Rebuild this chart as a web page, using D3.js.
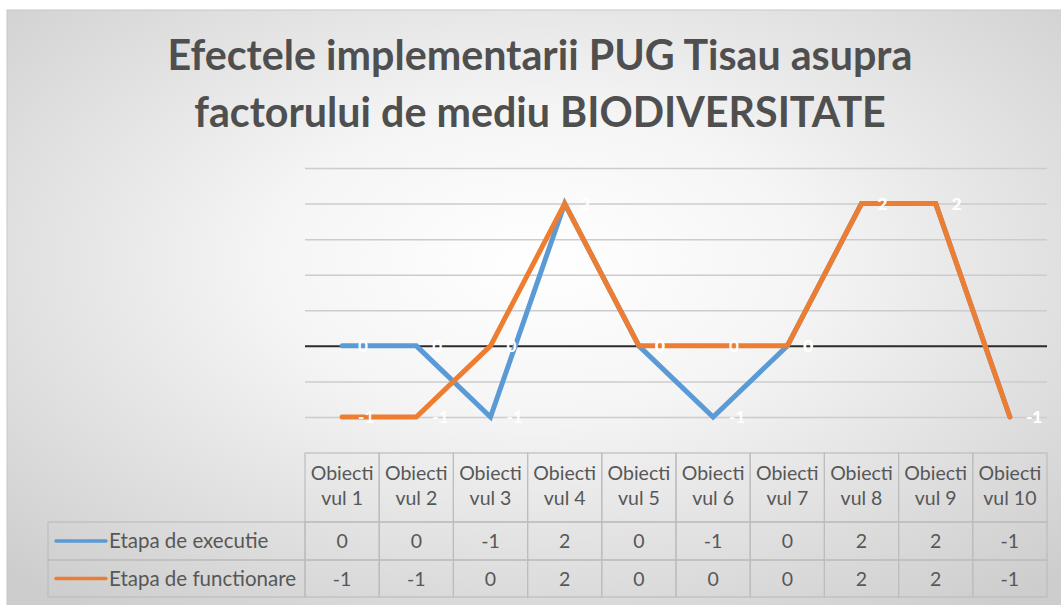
<!DOCTYPE html>
<html>
<head>
<meta charset="utf-8">
<script src="https://cdn.jsdelivr.net/npm/d3@7"></script>
<style>
  html, body { margin: 0; padding: 0; background: #ffffff; }
  svg { display: block; }
</style>
</head>
<body>
<svg id="chart" width="1061" height="605"></svg>
<script>
// ---- data ----
const titleLines = ["Efectele implementarii PUG Tisau asupra", "factorului de mediu BIODIVERSITATE"];
const categories = ["Obiectivul 1","Obiectivul 2","Obiectivul 3","Obiectivul 4","Obiectivul 5",
                    "Obiectivul 6","Obiectivul 7","Obiectivul 8","Obiectivul 9","Obiectivul 10"];
const headerLine1 = ["Obiecti","Obiecti","Obiecti","Obiecti","Obiecti","Obiecti","Obiecti","Obiecti","Obiecti","Obiecti"];
const headerLine2 = ["vul 1","vul 2","vul 3","vul 4","vul 5","vul 6","vul 7","vul 8","vul 9","vul 10"];
const seriesNames = ["Etapa de executie", "Etapa de functionare"];
const executie = [0, 0, -1, 2, 0, -1, 0, 2, 2, -1];
const functionare = [-1, -1, 0, 2, 0, 0, 0, 2, 2, -1];
const yTicks = [-1, -0.5, 0, 0.5, 1, 1.5, 2, 2.5];
const colors = ["#5b9bd5", "#ed7d31"];

const series = [
  { name: seriesNames[0], values: executie, color: colors[0] },
  { name: seriesNames[1], values: functionare, color: colors[1] }
];

const svg = d3.select("#chart");
const FONT = "Lato, 'Open Sans', 'DejaVu Sans', sans-serif";

// ---- background ----
const defs = svg.append("defs");
const rg = defs.append("radialGradient").attr("id", "bg")
  .attr("cx", "50%").attr("cy", "42%").attr("r", "72%");
rg.append("stop").attr("offset", "0%").attr("stop-color", "#ffffff");
rg.append("stop").attr("offset", "35%").attr("stop-color", "#f5f5f5");
rg.append("stop").attr("offset", "100%").attr("stop-color", "#cdcdcd");
svg.append("rect").attr("x", 7).attr("y", 10).attr("width", 1061).attr("height", 600)
  .attr("fill", "url(#bg)").attr("stroke", "#c8c8c8").attr("stroke-width", 1);

// ---- title ----
const titleG = svg.append("g");
const titleBaselines = [70, 127];
titleLines.forEach((t, i) => {
  titleG.append("text")
    .attr("x", 540).attr("y", titleBaselines[i])
    .attr("text-anchor", "middle")
    .attr("font-family", FONT).attr("font-weight", 700)
    .attr("font-size", 40)
    .attr("fill", "#4f4f4f")
    .text(t);
});
// fit first line to reference width (~745px), apply same size to both
{
  const n = titleG.select("text").node();
  const w = n.getComputedTextLength();
  const fs = 40 * 745 / w;
  titleG.selectAll("text").attr("font-size", fs);
}

// ---- scales ----
const plotLeft = 305, plotRight = 1047;
const x = d3.scaleBand().domain(categories).range([plotLeft, plotRight]).padding(0);
const y = d3.scaleLinear().domain([-1, 2.5]).range([417, 168]);
const cx = c => x(c) + x.bandwidth() / 2;

// ---- gridlines ----
const grid = svg.append("g").attr("transform", `translate(${plotLeft},0)`)
  .call(d3.axisLeft(y).tickValues(yTicks).tickSize(-(plotRight - plotLeft)).tickFormat(""));
grid.select(".domain").remove();
grid.selectAll(".tick line")
  .attr("stroke", d => d === 0 ? "#2b2b2b" : "#cccccc")
  .attr("stroke-width", d => d === 0 ? 2 : 1.5);

// ---- lines ----
const line = d3.line().x((d, i) => cx(categories[i])).y(d => y(d));
svg.append("g").selectAll("path").data(series).join("path")
  .attr("d", s => line(s.values))
  .attr("fill", "none")
  .attr("stroke", s => s.color)
  .attr("stroke-width", 5)
  .attr("stroke-linejoin", "miter")
  .attr("stroke-linecap", "round");

// ---- data labels ----
series.forEach(s => {
  svg.append("g").selectAll("text").data(s.values).join("text")
    .attr("x", (d, i) => cx(categories[i]) + 16)
    .attr("y", d => y(d))
    .attr("dy", "0.36em")
    .attr("font-family", FONT).attr("font-weight", 700).attr("font-size", 17)
    .attr("fill", "#ffffff")
    .text(d => d);
});

// ---- data table ----
const tableTop = 453, headerBottom = 522, row1Bottom = 560, row2Bottom = 597;
const legendLeft = 48;
const border = "#bdbdbd";
const tbl = svg.append("g");
const textColor = "#575757";
const tfs = 19.5;

// header cells
tbl.selectAll("rect.h").data(categories).join("rect").attr("class", "h")
  .attr("x", d => x(d)).attr("y", tableTop)
  .attr("width", x.bandwidth()).attr("height", headerBottom - tableTop)
  .attr("fill", "none").attr("stroke", border).attr("stroke-width", 1.2);
tbl.selectAll("text.h1").data(headerLine1).join("text").attr("class", "h1")
  .attr("x", (d, i) => cx(categories[i])).attr("y", 480)
  .attr("text-anchor", "middle").attr("font-family", FONT).attr("font-size", tfs)
  .attr("fill", textColor).text(d => d);
tbl.selectAll("text.h2").data(headerLine2).join("text").attr("class", "h2")
  .attr("x", (d, i) => cx(categories[i])).attr("y", 505)
  .attr("text-anchor", "middle").attr("font-family", FONT).attr("font-size", tfs)
  .attr("fill", textColor).text(d => d);

// body rows
const rowTops = [headerBottom, row1Bottom];
const rowBottoms = [row1Bottom, row2Bottom];
series.forEach((s, r) => {
  const top = rowTops[r], bot = rowBottoms[r], mid = (top + bot) / 2;
  // legend cell
  tbl.append("rect").attr("x", legendLeft).attr("y", top)
    .attr("width", plotLeft - legendLeft).attr("height", bot - top)
    .attr("fill", "none").attr("stroke", border).attr("stroke-width", 1.2);
  tbl.append("line").attr("x1", 56).attr("x2", 106).attr("y1", mid).attr("y2", mid)
    .attr("stroke", s.color).attr("stroke-width", 3.5).attr("stroke-linecap", "round");
  tbl.append("text").attr("x", 109).attr("y", mid).attr("dy", "0.36em")
    .attr("font-family", FONT).attr("font-size", 20.5).attr("fill", textColor).text(s.name);
  // value cells
  tbl.append("g").selectAll("rect").data(s.values).join("rect")
    .attr("x", (d, i) => x(categories[i])).attr("y", top)
    .attr("width", x.bandwidth()).attr("height", bot - top)
    .attr("fill", "none").attr("stroke", border).attr("stroke-width", 1.2);
  tbl.append("g").selectAll("text").data(s.values).join("text")
    .attr("x", (d, i) => cx(categories[i])).attr("y", mid).attr("dy", "0.36em")
    .attr("text-anchor", "middle").attr("font-family", FONT).attr("font-size", tfs)
    .attr("fill", textColor).text(d => d);
});
</script>
</body>
</html>
